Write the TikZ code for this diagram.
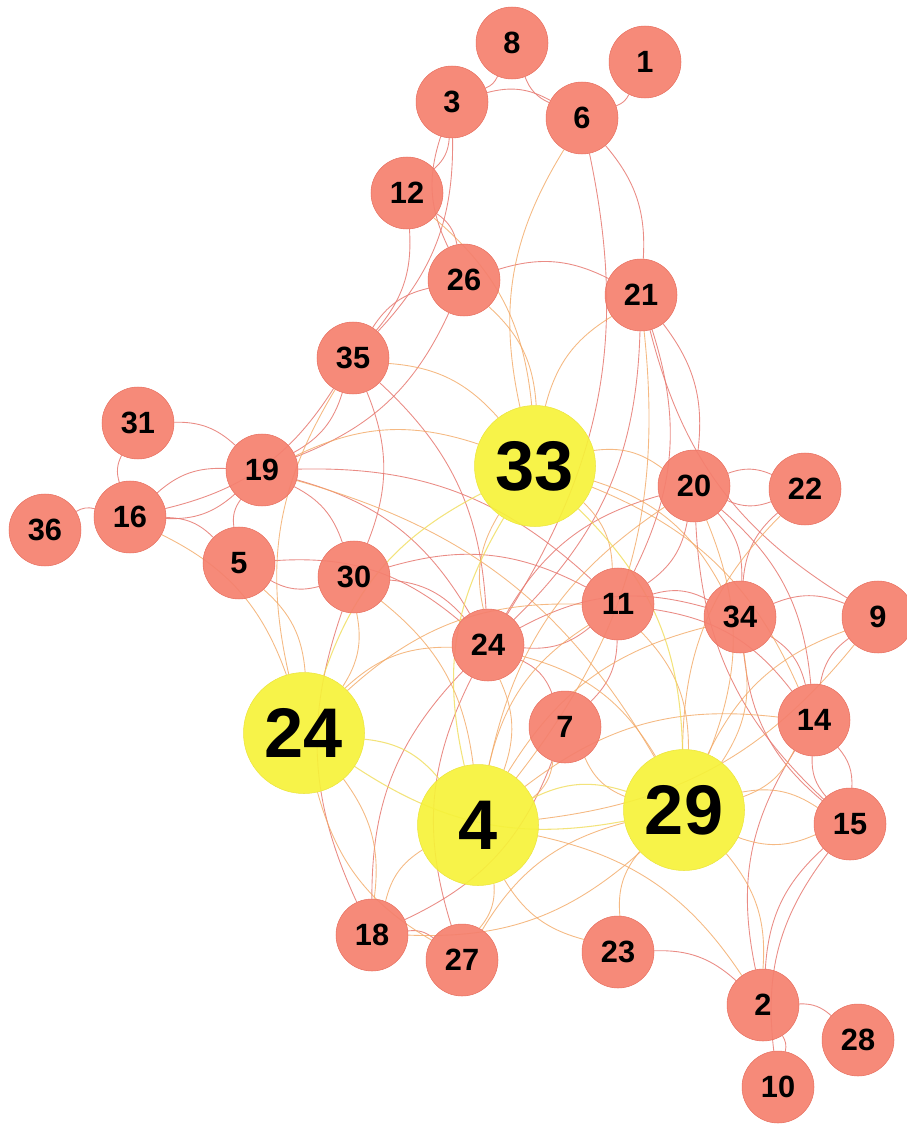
\documentclass[tikz,border=0pt]{standalone}
\usepackage{fontspec}
\setmainfont{Liberation Sans}
\usetikzlibrary{backgrounds}
\definecolor{salmon}{RGB}{245,128,110}
\definecolor{salmonedge}{RGB}{232,112,96}
\definecolor{yel}{RGB}{246,242,58}
\definecolor{yeledge}{RGB}{236,228,60}
\definecolor{ered}{RGB}{230,120,112}
\definecolor{eora}{RGB}{242,168,100}
\definecolor{eyel}{RGB}{240,220,90}
\tikzset{
  sn/.style={circle, fill=salmon, draw=salmonedge, line width=0.3pt, fill opacity=0.92, text opacity=1,
    minimum size=1.44cm, inner sep=0pt, font=\bfseries\fontsize{17.5}{17.5}\selectfont},
  yn/.style={circle, fill=yel, draw=yeledge, line width=0.3pt, fill opacity=0.92, text opacity=1,
    minimum size=2.42cm, inner sep=0pt, font=\bfseries\fontsize{40}{40}\selectfont},
  ee/.style={draw=ered, line width=0.5pt, opacity=0.85, bend left=22},
  ey/.style={draw=eora, line width=0.5pt, opacity=0.8, bend left=22},
  yy/.style={draw=eyel, line width=0.6pt, opacity=0.8, bend left=22},
}
\begin{document}
\begin{tikzpicture}[x=0.02cm, y=-0.02cm]
\useasboundingbox (0,0) rectangle (906,1128);
% salmon nodes
\node[sn] (n8) at (512,43) {8};
\node[sn] (n1) at (645,62) {1};
\node[sn] (n3) at (452,102) {3};
\node[sn] (n6) at (582,118) {6};
\node[sn] (n12) at (407,193) {12};
\node[sn] (n26) at (464,280) {26};
\node[sn] (n21) at (641,295) {21};
\node[sn] (n35) at (353,358) {35};
\node[sn] (n31) at (138,423) {31};
\node[sn] (n19) at (262,470) {19};
\node[sn] (n16) at (130,517) {16};
\node[sn] (n36) at (45,530) {36};
\node[sn] (n5) at (239,563) {5};
\node[sn] (n30) at (354,577) {30};
\node[sn] (n20) at (694,486) {20};
\node[sn] (n22) at (805,489) {22};
\node[sn] (n11) at (618,604) {11};
\node[sn] (n34) at (740,617) {34};
\node[sn] (n9) at (878,617) {9};
\node[sn] (s24) at (488,645) {24};
\node[sn] (n7) at (565,727) {7};
\node[sn] (n14) at (814,720) {14};
\node[sn] (n15) at (850,824) {15};
\node[sn] (n18) at (372,935) {18};
\node[sn] (n27) at (462,960) {27};
\node[sn] (n23) at (618,952) {23};
\node[sn] (n2) at (763,1005) {2};
\node[sn] (n28) at (858,1040) {28};
\node[sn] (n10) at (778,1087) {10};
% yellow nodes
\node[yn] (n33) at (535,466) {33};
\node[yn] (Y24) at (304,733) {24};
\node[yn] (n4) at (478,825) {4};
\node[yn] (n29) at (684,810) {29};
\begin{scope}[on background layer]
% salmon-salmon edges
\foreach \a/\b in {n8/n3, n6/n8, n3/n6, n1/n6, n3/n12, n3/n35, n26/n3, n12/n35, n12/n26, n6/n21,
  n26/n21, n35/n26, n26/n19, n21/n20, n21/n11, n9/n21, n21/s24, n35/n19, n35/n16, n35/n30,
  n35/s24, n31/n19, n16/n31, n36/n16, n16/n19, n19/n16, n16/n5, n5/n19, n19/n30, n19/n11, n19/s24,
  n5/s24, n30/s24, n30/n11, n18/n30, n20/n22, n22/n20, n20/n11, n20/n34, n20/n14, s24/n20, n15/n20,
  n34/n22, n34/n9, n14/n9, n11/n34, n11/s24, n11/n14, n34/n14, n15/n34, s24/n34, s24/n7,
  n18/s24, n27/s24, n14/n15, n15/n14, n2/n15, n10/n15, n18/n27, n2/n28, n2/n10, n23/n2,
  n2/n14, n7/n18, n6/s24, n30/n5, n11/n7}
  \draw[ee] (\a) to (\b);
% salmon-yellow edges
\foreach \a/\b in {n12/n33, n33/n6, n26/n33, n33/n21, n35/n33, Y24/n35, n16/Y24, n19/n33,
  n5/Y24, n30/n4, n30/Y24, n33/n20, n33/n11, n33/n34, s24/n33, n33/n14, n20/n29, n4/n20,
  n29/n22, n29/n9, n11/n29, n4/n11, n34/n29, s24/n4, s24/n29, Y24/s24, n7/n4, n29/n7,
  n14/n29, n4/n14, n15/n29, n29/n2, n23/n29, n27/n29, n29/n18, n18/n4, n4/n27, n23/n4,
  n4/n2, Y24/n18, n27/Y24, n21/n4, n4/n34, n29/n15, Y24/n11, n19/n29, n9/n4}
  \draw[ey] (\a) to (\b);
% yellow-yellow edges
\foreach \a/\b in {n33/n29, n4/n33, Y24/n33, Y24/n4, n29/Y24, n4/n29}
  \draw[yy] (\a) to (\b);
\end{scope}
\end{tikzpicture}
\end{document}
